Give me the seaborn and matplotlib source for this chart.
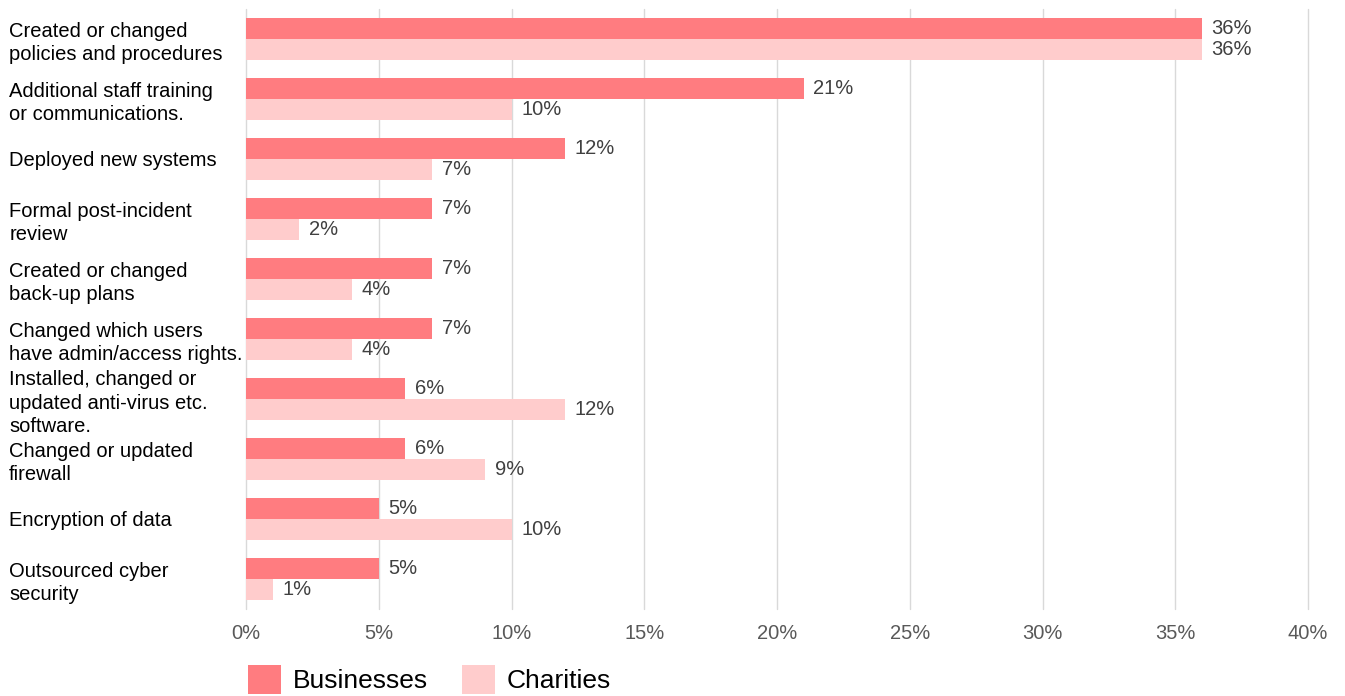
import matplotlib
matplotlib.use("Agg")
import matplotlib.pyplot as plt
import seaborn as sns
import pandas as pd
from matplotlib.patches import Patch

categories = [
    "Created or changed\npolicies and procedures",
    "Additional staff training\nor communications.",
    "Deployed new systems",
    "Formal post-incident\nreview",
    "Created or changed\nback-up plans",
    "Changed which users\nhave admin/access rights.",
    "Installed, changed or\nupdated anti-virus etc.\nsoftware.",
    "Changed or updated\nfirewall",
    "Encryption of data",
    "Outsourced cyber\nsecurity",
]
businesses = [36, 21, 12, 7, 7, 7, 6, 6, 5, 5]
charities = [36, 10, 7, 2, 4, 4, 12, 9, 10, 1]
series = ["Businesses", "Charities"]
colors = ["#FF7C80", "#FFCCCC"]
xticks = [0, 5, 10, 15, 20, 25, 30, 35, 40]

df = pd.DataFrame({
    "category": categories * 2,
    "series": [series[0]] * len(categories) + [series[1]] * len(categories),
    "value": businesses + charities,
})

sns.set_theme(style="white")
plt.rcParams["font.family"] = ["Liberation Sans", "DejaVu Sans"]

fig = plt.figure(figsize=(13.45, 6.96), dpi=100)
ax = fig.add_axes([246 / 1345, 1 - 609 / 696, (1308 - 246) / 1345, 600 / 696])

sns.barplot(data=df, y="category", x="value", hue="series", order=categories,
            hue_order=series, palette=colors, width=0.7, orient="h",
            saturation=1, legend=False, linewidth=0, ax=ax)

for cont in ax.containers:
    ax.bar_label(cont, labels=[f"{v:.0f}%" for v in cont.datavalues],
                 padding=7, fontsize=14.5, color="#404040")

ax.set_xlim(0, 40)
ax.set_ylim(len(categories) - 0.5, -0.5)
ax.set_xticks(xticks)
ax.set_xticklabels([f"{t}%" for t in xticks], fontsize=14.5, color="#595959")
ax.grid(axis="x", color="#D9D9D9", linewidth=1)
ax.grid(axis="y", visible=False)
for gl in ax.get_xgridlines():
    gl.set_clip_on(False)
ax.set_axisbelow(True)
for s in ax.spines.values():
    s.set_visible(False)
ax.set_xlabel("")
ax.set_ylabel("")
ax.tick_params(axis="x", length=0, pad=11)
ax.tick_params(axis="y", length=0, pad=170.5)
for lab in ax.get_yticklabels():
    lab.set_ha("left")
    lab.set_fontsize(14.5)
    lab.set_color("#000000")
    lab.set_linespacing(1.27)

handles = [Patch(facecolor=c, edgecolor="none") for c in colors]
leg = fig.legend(handles, series, loc="lower left", bbox_to_anchor=(224 / 1345, -0.031),
                 ncol=2, frameon=False, fontsize=19, handlelength=1.25, handleheight=1.3,
                 handletextpad=0.45, columnspacing=1.3)
for t in leg.get_texts():
    t.set_color("#000000")

fig.savefig("out.png", dpi=100)
